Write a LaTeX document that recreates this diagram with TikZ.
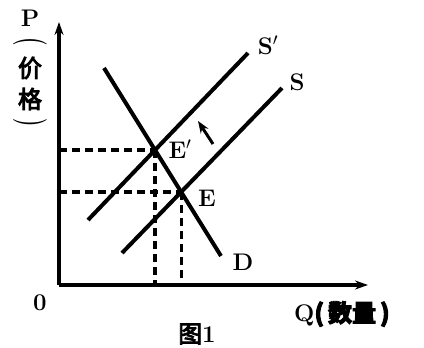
\documentclass[tikz,border=0pt]{standalone}
\usepackage{fontspec}
\newfontfamily\cjk{Noto Sans CJK SC}[FakeBold=4]
\usetikzlibrary{intersections,arrows.meta}
\begin{document}
\begin{tikzpicture}[x=1pt,y=-1pt,
  ax/.style={line width=4.5pt,-{Stealth[length=13pt,width=9pt]}},
  curve/.style={line width=4pt},
  guide/.style={line width=3.2pt,dash pattern=on 8pt off 5pt},
  lbl/.style={font=\bfseries\fontsize{24}{24}\selectfont,inner sep=0pt},
  cjklbl/.style={font=\cjk\fontsize{24}{24}\selectfont,inner sep=0pt}]
\useasboundingbox (0,0) rectangle (424,348);
\fill[white] (0,0) rectangle (424,348);
\coordinate (O) at (59,285);
\coordinate (Ytop) at (59,22);
\coordinate (Xend) at (368,285);
\coordinate (Dt) at (104,68);
\coordinate (Db) at (221,256);
\coordinate (Spb) at (88,220);
\coordinate (Spt) at (248,53);
\coordinate (Sb) at (122,253);
\coordinate (St) at (282,88);
\draw[ax] (O) -- (Ytop);
\draw[ax] (O) -- (Xend);
\draw[curve,name path=D] (Dt) -- (Db);
\draw[curve,name path=Sp] (Spb) -- (Spt);
\draw[curve,name path=S] (Sb) -- (St);
\path[name intersections={of=D and Sp,by=Ep}];
\path[name intersections={of=D and S,by=E}];
\draw[guide] (O |- Ep) -- (Ep);
\draw[guide] (O |- E) -- (E);
\draw[guide] (Ep) -- (Ep |- O);
\draw[guide] (E) -- (E |- O);
\coordinate (Aa) at (213,144);
\coordinate (Ab) at (198,121);
\draw[line width=3pt,-{Stealth[length=12pt,width=9pt]}] (Aa) -- (Ab);
\node[lbl] (lEp) at (180,149) {E$'$};
\node[lbl] (lE) at (207,198) {E};
\node[lbl] (lSp) at (268,45) {S$'$};
\node[lbl] (lS) at (297,82) {S};
\node[lbl] (lD) at (243,262) {D};
\node[lbl] (l0) at (40,303) {0};
\node[lbl,anchor=west] (lQ) at (294,314) {Q{\cjk(\,数量\,)}};
\node[cjklbl] (lfig) at (197,334) {图\bfseries\rmfamily 1};
\node[lbl] (lP) at (30,18) {P};
\node[lbl,rotate=-90,xscale=0.8,yscale=1.4] (lpa) at (30,42) {(};
\node[cjklbl] (l1) at (30,68) {价};
\node[cjklbl] (l2) at (30,99) {格};
\node[lbl,rotate=-90,xscale=0.8,yscale=1.4] (lpb) at (30,123) {)};
\end{tikzpicture}
\end{document}
